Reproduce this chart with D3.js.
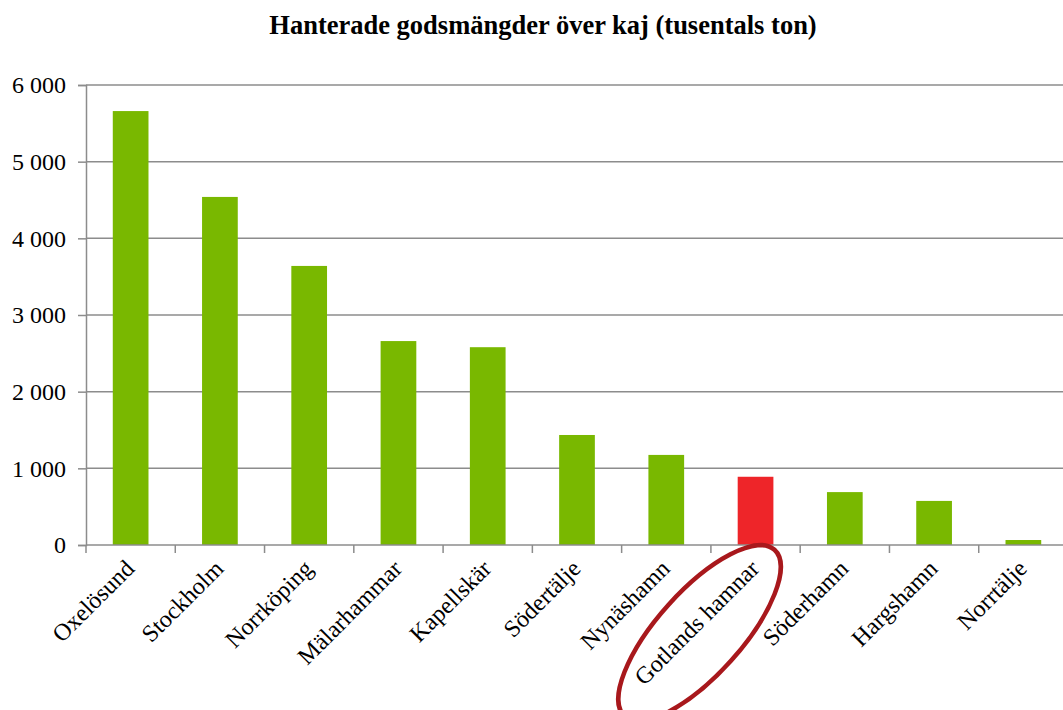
<!DOCTYPE html>
<html>
<head>
<meta charset="utf-8">
<script src="https://cdn.jsdelivr.net/npm/d3@7"></script>
<style>
  body { margin: 0; background: #fff; }
</style>
</head>
<body>
<script>
const chartTitle = "Hanterade godsmängder över kaj (tusentals ton)";
const ports = ["Oxelösund", "Stockholm", "Norrköping", "Mälarhammar", "Kapellskär",
  "Södertälje", "Nynäshamn", "Gotlands hamnar", "Söderhamn", "Hargshamn", "Norrtälje"];
const volumes = [5660, 4540, 3640, 2660, 2580, 1435, 1175, 890, 690, 575, 65];
const highlighted = ["Gotlands hamnar"];
const yTicks = [0, 1000, 2000, 3000, 4000, 5000, 6000];

const width = 1063;
const height = 710;
const plotLeft = 86, plotRight = 1068, plotTop = 85, plotBottom = 545;
const serif = "Liberation Serif";

const svg = d3.select("body")
    .append("svg")
    .attr("width", width)
    .attr("height", height)
    .attr("font-family", serif);

const x = d3.scaleBand()
    .domain(ports)
    .range([plotLeft, plotRight])
    .paddingInner(0.6)
    .paddingOuter(0.3);

const y = d3.scaleLinear()
    .domain([0, 6000])
    .range([plotBottom, plotTop]);

// thousands written with a space, as in the original
const fmt = v => d3.format(",")(v).replace(/,/g, " ");

// title
svg.append("text")
    .attr("x", 543)
    .attr("y", 34)
    .attr("text-anchor", "middle")
    .attr("font-family", serif)
    .attr("font-size", 26.5)
    .attr("font-weight", "bold")
    .text(chartTitle);

// gridlines
svg.append("g")
    .selectAll("line")
    .data(yTicks.filter(d => d > 0))
    .join("line")
    .attr("x1", plotLeft)
    .attr("x2", plotRight)
    .attr("y1", d => y(d))
    .attr("y2", d => y(d))
    .attr("stroke", "#8c8c8c")
    .attr("stroke-width", 1.5);

// y axis
const yAxis = svg.append("g")
    .attr("transform", `translate(${plotLeft},0)`)
    .call(d3.axisLeft(y).tickValues(yTicks).tickFormat(fmt).tickSize(8).tickPadding(12));
yAxis.attr("font-family", serif).attr("font-size", 24);
yAxis.select(".domain").attr("stroke", "#8c8c8c").attr("stroke-width", 1.5);
yAxis.selectAll(".tick line").attr("stroke", "#8c8c8c").attr("stroke-width", 1.5);
yAxis.selectAll(".tick text").attr("fill", "#000");

// bars
svg.append("g")
    .selectAll("rect")
    .data(ports)
    .join("rect")
    .attr("x", d => x(d))
    .attr("y", (d, i) => y(volumes[i]))
    .attr("width", x.bandwidth())
    .attr("height", (d, i) => plotBottom - y(volumes[i]))
    .attr("fill", d => highlighted.includes(d) ? "#ee2529" : "#79b800");

// x axis line and tick marks at band boundaries
const bounds = ports.map(p => x(p) - x.step() * x.paddingInner() / 2);
svg.append("line")
    .attr("x1", plotLeft)
    .attr("x2", plotRight)
    .attr("y1", plotBottom)
    .attr("y2", plotBottom)
    .attr("stroke", "#8c8c8c")
    .attr("stroke-width", 1.5);
svg.append("g")
    .selectAll("line")
    .data(bounds)
    .join("line")
    .attr("x1", d => d)
    .attr("x2", d => d)
    .attr("y1", plotBottom)
    .attr("y2", plotBottom + 8)
    .attr("stroke", "#8c8c8c")
    .attr("stroke-width", 1.5);

// category labels, rotated
svg.append("g")
    .selectAll("text")
    .data(ports)
    .join("text")
    .attr("transform", d => `translate(${x(d) + x.bandwidth() / 2 + 5},${plotBottom + 25}) rotate(-45)`)
    .attr("text-anchor", "end")
    .attr("font-family", serif)
    .attr("font-size", 24)
    .text(d => d);

// circle around the highlighted port label
highlighted.forEach(p => {
    const cx = x(p) + x.bandwidth() / 2 - 56;
    svg.append("ellipse")
        .attr("transform", `translate(${cx},${plotBottom + 88}) rotate(-48)`)
        .attr("rx", 112)
        .attr("ry", 42)
        .attr("fill", "none")
        .attr("stroke", "#a8181c")
        .attr("stroke-width", 4.5);
});
</script>
</body>
</html>
